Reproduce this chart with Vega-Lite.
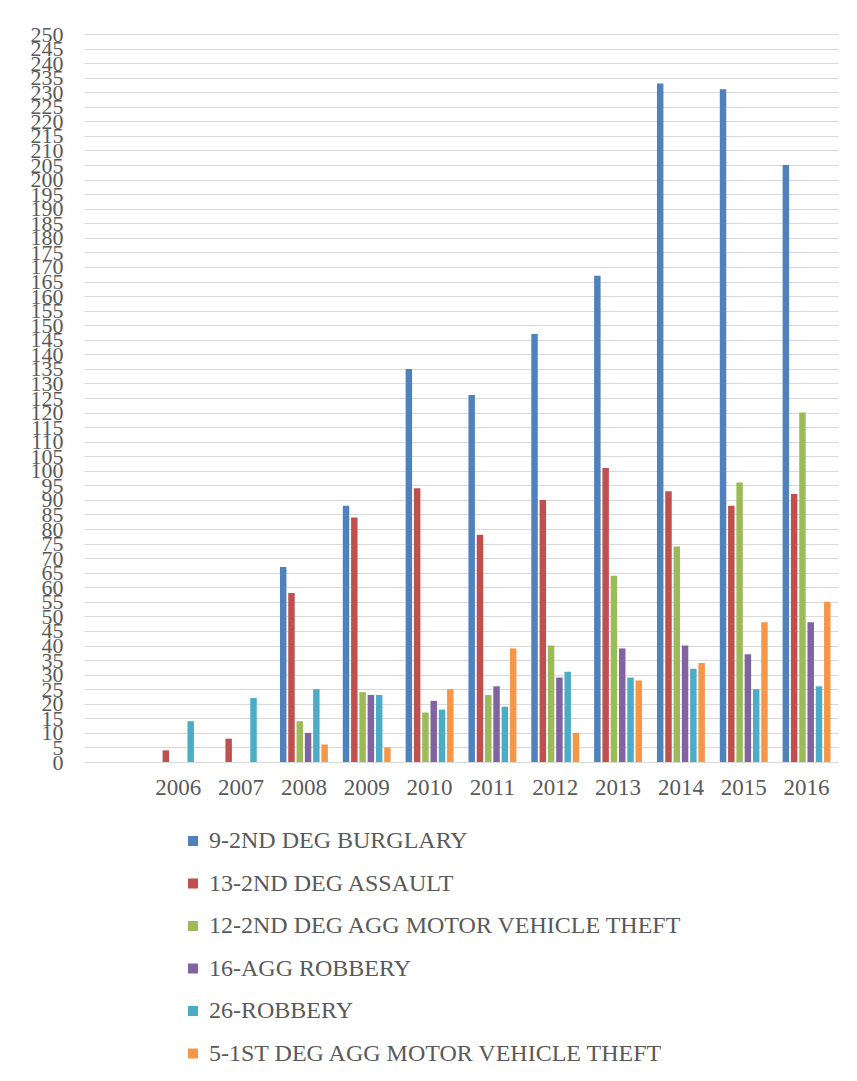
{
  "$schema": "https://vega.github.io/schema/vega-lite/v6.json",
  "autosize": "none",
  "width": 754,
  "height": 728,
  "padding": {"left": 84, "top": 34, "right": 19, "bottom": 319},
  "background": "white",
  "config": {
    "view": {"stroke": null},
    "font": "Liberation Serif"
  },
  "data": {
    "values": [
      {"year": "2006", "crime": "13-2ND DEG ASSAULT", "count": 4},
      {"year": "2006", "crime": "26-ROBBERY", "count": 14},
      {"year": "2007", "crime": "13-2ND DEG ASSAULT", "count": 8},
      {"year": "2007", "crime": "26-ROBBERY", "count": 22},
      {"year": "2008", "crime": "9-2ND DEG BURGLARY", "count": 67},
      {"year": "2008", "crime": "13-2ND DEG ASSAULT", "count": 58},
      {"year": "2008", "crime": "12-2ND DEG AGG MOTOR VEHICLE THEFT", "count": 14},
      {"year": "2008", "crime": "16-AGG ROBBERY", "count": 10},
      {"year": "2008", "crime": "26-ROBBERY", "count": 25},
      {"year": "2008", "crime": "5-1ST DEG AGG MOTOR VEHICLE THEFT", "count": 6},
      {"year": "2009", "crime": "9-2ND DEG BURGLARY", "count": 88},
      {"year": "2009", "crime": "13-2ND DEG ASSAULT", "count": 84},
      {"year": "2009", "crime": "12-2ND DEG AGG MOTOR VEHICLE THEFT", "count": 24},
      {"year": "2009", "crime": "16-AGG ROBBERY", "count": 23},
      {"year": "2009", "crime": "26-ROBBERY", "count": 23},
      {"year": "2009", "crime": "5-1ST DEG AGG MOTOR VEHICLE THEFT", "count": 5},
      {"year": "2010", "crime": "9-2ND DEG BURGLARY", "count": 135},
      {"year": "2010", "crime": "13-2ND DEG ASSAULT", "count": 94},
      {"year": "2010", "crime": "12-2ND DEG AGG MOTOR VEHICLE THEFT", "count": 17},
      {"year": "2010", "crime": "16-AGG ROBBERY", "count": 21},
      {"year": "2010", "crime": "26-ROBBERY", "count": 18},
      {"year": "2010", "crime": "5-1ST DEG AGG MOTOR VEHICLE THEFT", "count": 25},
      {"year": "2011", "crime": "9-2ND DEG BURGLARY", "count": 126},
      {"year": "2011", "crime": "13-2ND DEG ASSAULT", "count": 78},
      {"year": "2011", "crime": "12-2ND DEG AGG MOTOR VEHICLE THEFT", "count": 23},
      {"year": "2011", "crime": "16-AGG ROBBERY", "count": 26},
      {"year": "2011", "crime": "26-ROBBERY", "count": 19},
      {"year": "2011", "crime": "5-1ST DEG AGG MOTOR VEHICLE THEFT", "count": 39},
      {"year": "2012", "crime": "9-2ND DEG BURGLARY", "count": 147},
      {"year": "2012", "crime": "13-2ND DEG ASSAULT", "count": 90},
      {"year": "2012", "crime": "12-2ND DEG AGG MOTOR VEHICLE THEFT", "count": 40},
      {"year": "2012", "crime": "16-AGG ROBBERY", "count": 29},
      {"year": "2012", "crime": "26-ROBBERY", "count": 31},
      {"year": "2012", "crime": "5-1ST DEG AGG MOTOR VEHICLE THEFT", "count": 10},
      {"year": "2013", "crime": "9-2ND DEG BURGLARY", "count": 167},
      {"year": "2013", "crime": "13-2ND DEG ASSAULT", "count": 101},
      {"year": "2013", "crime": "12-2ND DEG AGG MOTOR VEHICLE THEFT", "count": 64},
      {"year": "2013", "crime": "16-AGG ROBBERY", "count": 39},
      {"year": "2013", "crime": "26-ROBBERY", "count": 29},
      {"year": "2013", "crime": "5-1ST DEG AGG MOTOR VEHICLE THEFT", "count": 28},
      {"year": "2014", "crime": "9-2ND DEG BURGLARY", "count": 233},
      {"year": "2014", "crime": "13-2ND DEG ASSAULT", "count": 93},
      {"year": "2014", "crime": "12-2ND DEG AGG MOTOR VEHICLE THEFT", "count": 74},
      {"year": "2014", "crime": "16-AGG ROBBERY", "count": 40},
      {"year": "2014", "crime": "26-ROBBERY", "count": 32},
      {"year": "2014", "crime": "5-1ST DEG AGG MOTOR VEHICLE THEFT", "count": 34},
      {"year": "2015", "crime": "9-2ND DEG BURGLARY", "count": 231},
      {"year": "2015", "crime": "13-2ND DEG ASSAULT", "count": 88},
      {"year": "2015", "crime": "12-2ND DEG AGG MOTOR VEHICLE THEFT", "count": 96},
      {"year": "2015", "crime": "16-AGG ROBBERY", "count": 37},
      {"year": "2015", "crime": "26-ROBBERY", "count": 25},
      {"year": "2015", "crime": "5-1ST DEG AGG MOTOR VEHICLE THEFT", "count": 48},
      {"year": "2016", "crime": "9-2ND DEG BURGLARY", "count": 205},
      {"year": "2016", "crime": "13-2ND DEG ASSAULT", "count": 92},
      {"year": "2016", "crime": "12-2ND DEG AGG MOTOR VEHICLE THEFT", "count": 120},
      {"year": "2016", "crime": "16-AGG ROBBERY", "count": 48},
      {"year": "2016", "crime": "26-ROBBERY", "count": 26},
      {"year": "2016", "crime": "5-1ST DEG AGG MOTOR VEHICLE THEFT", "count": 55}
    ]
  },
  "mark": {"type": "bar"},
  "encoding": {
    "x": {
      "field": "year",
      "type": "nominal",
      "scale": {
        "domain": [" ", "2006", "2007", "2008", "2009", "2010", "2011", "2012", "2013", "2014", "2015", "2016"],
        "paddingInner": 0,
        "paddingOuter": 0
      },
      "axis": {
        "title": null,
        "labelAngle": 0,
        "labelFont": "Liberation Serif",
        "labelFontSize": 23,
        "labelColor": "#595959",
        "labelPadding": 14,
        "ticks": false,
        "domain": false,
        "grid": false
      }
    },
    "xOffset": {
      "field": "crime",
      "type": "nominal",
      "scale": {
        "domain": ["9-2ND DEG BURGLARY", "13-2ND DEG ASSAULT", "12-2ND DEG AGG MOTOR VEHICLE THEFT", "16-AGG ROBBERY", "26-ROBBERY", "5-1ST DEG AGG MOTOR VEHICLE THEFT"],
        "paddingInner": 0.22,
        "paddingOuter": 0.9
      }
    },
    "y": {
      "field": "count",
      "type": "quantitative",
      "scale": {"domain": [0, 250], "nice": false},
      "axis": {
        "title": null,
        "values": [0,5,10,15,20,25,30,35,40,45,50,55,60,65,70,75,80,85,90,95,100,105,110,115,120,125,130,135,140,145,150,155,160,165,170,175,180,185,190,195,200,205,210,215,220,225,230,235,240,245,250],
        "labelFont": "Liberation Serif",
        "labelFontSize": 22,
        "labelColor": "#595959",
        "labelOverlap": false,
        "labelPadding": 21,
        "ticks": false,
        "domain": false,
        "grid": true,
        "gridColor": "#d9d9d9",
        "gridWidth": 1.2
      }
    },
    "color": {
      "field": "crime",
      "type": "nominal",
      "scale": {
        "domain": ["9-2ND DEG BURGLARY", "13-2ND DEG ASSAULT", "12-2ND DEG AGG MOTOR VEHICLE THEFT", "16-AGG ROBBERY", "26-ROBBERY", "5-1ST DEG AGG MOTOR VEHICLE THEFT"],
        "range": ["#4F81BD", "#C0504D", "#9BBB59", "#8064A2", "#4BACC6", "#F79646"]
      },
      "legend": {
        "title": null,
        "orient": "none",
        "direction": "vertical",
        "legendX": 97,
        "legendY": 795,
        "symbolType": "square",
        "symbolSize": 100,
        "symbolStrokeWidth": 0,
        "labelFont": "Liberation Serif",
        "labelFontSize": 24,
        "labelColor": "#595959",
        "labelOffset": 4,
        "rowPadding": 18.5,
        "labelLimit": 700
      }
    }
  }
}
